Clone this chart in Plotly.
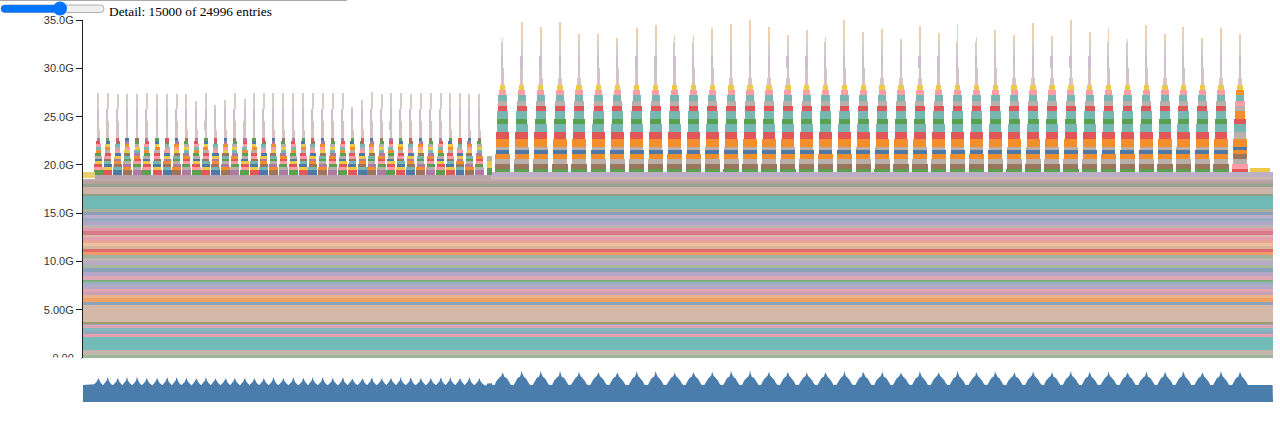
import numpy as np
import plotly.graph_objects as go

# ---------------- data (memory in GB, time in entry index) ----------------
entries_shown = 15000
entries_total = 24996

y_tick_values = [0, 5, 10, 15, 20, 25, 30, 35]
y_tick_labels = ["0.00", "5.00G", "10.0G", "15.0G", "20.0G", "25.0G", "30.0G", "35.0G"]

# long-lived allocations (bottom-up), alive over the whole window
static_band_gb = [0.31, 0.52, 1.35, 0.31, 0.31, 0.31, 0.31, 0.21, 0.10, 1.76,
                  0.31, 0.41, 0.31, 0.31, 0.31, 0.41, 0.31, 0.21, 0.41, 0.41,
                  0.41, 0.31, 0.41, 0.31, 0.31, 0.31, 0.41, 0.21, 0.31, 0.31,
                  0.31, 0.21, 0.41, 0.41, 0.31, 0.41, 0.31, 0.31, 0.31, 0.31,
                  1.35, 0.21, 0.72, 0.31, 0.31, 0.21]

# allocations alive during each phase
left_phase_span = [151, 5143]
left_phase_base_gb = [0.32]
right_phase_span = [5143, 15000]
right_phase_base_gb = [0.14, 0.52]

# phase 1 iterations
left_iter_center = [193, 311, 437, 555, 681, 803, 933, 1059, 1181, 1302,
                    1428, 1550, 1670, 1796, 1912, 2039, 2158, 2278, 2401, 2525,
                    2651, 2777, 2895, 3021, 3147, 3274, 3395, 3521, 3639, 3765,
                    3882, 4005, 4131, 4257, 4383, 4509, 4630, 4752, 4869, 4995]
left_iter_peak_gb = [27.4, 27.4, 27.3, 27.3, 27.3, 27.4, 27.3, 27.3, 27.3, 27.3,
                     26.6, 27.4, 26.2, 26.7, 27.4, 26.8, 27.4, 27.4, 27.4, 27.4,
                     27.4, 27.4, 27.4, 27.4, 27.4, 27.4, 26.0, 26.7, 27.5, 27.3,
                     27.4, 27.4, 27.3, 27.4, 27.4, 27.4, 27.4, 27.4, 27.3, 27.3]
left_layer_gb = [0.55, 0.30, 0.30, 0.30, 0.30, 0.30, 0.30, 0.30, 0.30, 0.30, 0.30, 0.30]
left_layer_life = [113, 107, 101, 95, 88, 82, 76, 69, 63, 57, 50, 44]
left_needle_gb = [0.8, 1.0, 1.2]
left_needle_life = [32, 25, 19, 13]

# phase 2 iterations
right_iter_center = [5288, 5530, 5770, 6013, 6252, 6496, 6735, 6979, 7219, 7457,
                     7695, 7932, 8170, 8408, 8646, 8884, 9122, 9359, 9597, 9835,
                     10073, 10311, 10549, 10786, 11024, 11262, 11500, 11738, 11976, 12213,
                     12451, 12689, 12927, 13165, 13403, 13639, 13869, 14109, 14344, 14584]
right_iter_peak_gb = [33.1, 34.8, 34.3, 34.8, 33.6, 33.6, 33.1, 34.2, 34.5, 33.4,
                      33.4, 34.2, 34.6, 35.0, 34.3, 33.5, 34.0, 33.2, 35.0, 33.8,
                      34.1, 33.0, 34.4, 33.7, 34.6, 33.2, 34.0, 33.5, 34.7, 33.3,
                      35.0, 33.8, 34.2, 33.0, 34.5, 33.6, 34.3, 33.1, 34.2, 33.6]
right_layer_gb = [0.34, 0.52, 0.52, 0.52, 0.34, 0.34, 0.86, 0.69, 0.86, 0.52,
                  0.86, 0.52, 0.52, 0.52, 0.52, 0.52]
right_layer_life = [195, 192, 187, 180, 175, 171, 166, 158, 149, 140,
                    132, 122, 116, 105, 91, 69]
right_needle_gb = [0.8, 1.0, 1.2, 1.5]
right_needle_life = [44, 32, 23, 15, 10]

# a few isolated allocations
extra_block_start = [0, 5093, 5093, 5093, 14710]
extra_block_end = [151, 5156, 5156, 5156, 14962]
extra_block_base_gb = [18.63, 18.95, 19.65, 20.45, 19.29]
extra_block_gb = [0.60, 0.70, 0.80, 0.50, 0.45]

# ---------------- styles ----------------
TAB10 = ['#4e79a7', '#f28e2c', '#e15759', '#76b7b2', '#59a14f',
         '#edc949', '#af7aa1', '#ff9da7', '#9c755f', '#bab0ab']
NEEDLE = ['#d9c2c6', '#cfc6c3', '#cdbfcf', '#d6ccc8', '#efcfae']
static_colors = ['#9db598', '#c4b6ae', '#72bbb6', '#e8a0b0', '#8fa9bd', '#86b8c0', '#dca4b4', '#9aa6bc', '#9c9a6a', '#d4b9a8',
                 '#8fa3b8', '#f0a268', '#eab38a', '#c9a0b8', '#e0a7b3', '#b4a9c6', '#9cb0c4', '#7cb07a', '#dfa8b8', '#b8a6c8',
                 '#8aa2ba', '#a6b8a0', '#b7aac6', '#bdb5b1', '#9fb29a', '#ee9a6a', '#e06a68', '#d8b49a', '#f0c0a0', '#eaa59a',
                 '#e6a0ae', '#d8baa8', '#d8788a', '#e397a5', '#bdb5b1', '#b0a8c8', '#98acc0', '#bcaec8', '#8aa0b8', '#aab09a',
                 '#6fbab5', '#8c9e88', '#cdb2a8', '#93a38e', '#b5a29c', '#c0a8b0']
left_base_colors = ['#bba3ab']
right_base_colors = ['#cdb9ad', '#bcb0c6']
left_layer_color_idx = [4, 7, 2, 5, 0, 9, 4, 1, 3, 7, 2, 6]
left_needle_color_idx = [0, 1, 2, 3]
right_layer_color_idx = [4, 8, 9, 1, 0, 9, 1, 2, 3, 4, 3, 2, 9, 3, 7, 5]
last_layer_color_idx = [2, 7, 9, 8, 1, 0, 1, 9, 3, 2, 1, 9, 7, 3, 1, 5]
right_needle_color_idx = [0, 1, 2, 3, 4]
extra_block_colors = ['#e8cf70', '#59a14f', '#edc949', '#bab0ab', '#edc949']
MINI_COLOR = '#4a7dab'

# ---------------- build allocation rectangles ----------------
rects = []  # (x0, x1, base, size, color)
cum = 0.0
for s, c in zip(static_band_gb, static_colors):
    rects.append((0, entries_shown, cum, s, c))
    cum += s
static_top = cum

left_top = static_top
for s, c in zip(left_phase_base_gb, left_base_colors):
    rects.append((left_phase_span[0], left_phase_span[1], left_top, s, c))
    left_top += s
right_top = static_top
for s, c in zip(right_phase_base_gb, right_base_colors):
    rects.append((right_phase_span[0], right_phase_span[1], right_top, s, c))
    right_top += s

for k, (cx, peak) in enumerate(zip(left_iter_center, left_iter_peak_gb)):
    y = left_top
    for j, (s, life) in enumerate(zip(left_layer_gb, left_layer_life)):
        col = TAB10[(left_layer_color_idx[j] - 2 * k) % 10]
        rects.append((cx - life / 2, cx + life / 2, y, s, col))
        y += s
    for j, life in enumerate(left_needle_life):
        s = left_needle_gb[j] if j < len(left_needle_gb) else max(peak - y, 0.1)
        rects.append((cx - life / 2, cx + life / 2, y, s, NEEDLE[left_needle_color_idx[j]]))
        y += s

n_right = len(right_iter_center)
for k, (cx, peak) in enumerate(zip(right_iter_center, right_iter_peak_gb)):
    y = right_top
    cidx = last_layer_color_idx if k == n_right - 1 else right_layer_color_idx
    for j, (s, life) in enumerate(zip(right_layer_gb, right_layer_life)):
        rects.append((cx - life / 2, cx + life / 2, y, s, TAB10[cidx[j]]))
        y += s
    for j, life in enumerate(right_needle_life):
        s = right_needle_gb[j] if j < len(right_needle_gb) else max(peak - y, 0.1)
        rects.append((cx - life / 2, cx + life / 2, y, s, NEEDLE[right_needle_color_idx[j]]))
        y += s

for a, b, base, s, c in zip(extra_block_start, extra_block_end, extra_block_base_gb,
                            extra_block_gb, extra_block_colors):
    rects.append((a, b, base, s, c))

bx = [(r[0] + r[1]) / 2 for r in rects]
bw = [r[1] - r[0] for r in rects]
bbase = [r[2] for r in rects]
by = [r[3] for r in rects]
bc = [r[4] for r in rects]

# total memory over time for the overview strip
grid = np.arange(0, entries_shown + 1, 5)
total = np.zeros(len(grid))
for x0, x1, _, s, _ in rects:
    total[(grid >= x0) & (grid < x1)] += s

# ---------------- figure ----------------
fig = go.Figure()
fig.add_trace(go.Bar(x=bx, y=by, base=bbase, width=bw,
                     marker=dict(color=bc, line=dict(width=0)),
                     hoverinfo='skip', xaxis='x', yaxis='y'))
fig.add_trace(go.Scatter(x=grid, y=total, mode='lines', fill='tozeroy',
                         line=dict(width=0, color=MINI_COLOR), fillcolor=MINI_COLOR,
                         hoverinfo='skip', xaxis='x2', yaxis='y2'))

W, H = 1280, 425
L, R, T, B = 83, 7, 20, 23
PW, PH = W - L - R, H - T - B


def pxx(v):
    return (v - L) / PW


def pxy(v):
    return 1 - (v - T) / PH


def pill(x0, y0, x1, y1):
    r = (y1 - y0) / 2
    ym = (y0 + y1) / 2
    pts = [('M', x0 + r, y0), ('L', x1 - r, y0), ('Q', x1, y0, x1, ym), ('Q', x1, y1, x1 - r, y1),
           ('L', x0 + r, y1), ('Q', x0, y1, x0, ym), ('Q', x0, y0, x0 + r, y0)]
    out = []
    for p in pts:
        cmd = p[0]
        coords = p[1:]
        segs = []
        for i in range(0, len(coords), 2):
            segs.append(f"{pxx(coords[i]):.6f},{pxy(coords[i + 1]):.6f}")
        out.append(cmd + ' ' + ' '.join(segs))
    return ' '.join(out) + ' Z'


shapes = [
    dict(type='line', xref='paper', yref='paper', x0=pxx(0), x1=pxx(347), y0=pxy(0.5), y1=pxy(0.5),
         line=dict(color='#a8a8a8', width=1)),
    dict(type='path', xref='paper', yref='paper', path=pill(1, 5, 104, 12.5),
         fillcolor='#efefef', line=dict(color='#b0b0b0', width=1)),
    dict(type='path', xref='paper', yref='paper', path=pill(1, 5, 64, 12.5),
         fillcolor='#0075ff', line=dict(width=0)),
    dict(type='circle', xref='paper', yref='paper', x0=pxx(53), x1=pxx(67), y0=pxy(15.5), y1=pxy(1.5),
         fillcolor='#0075ff', line=dict(width=0)),
    dict(type='rect', xref='paper', yref='paper', x0=pxx(0), x1=pxx(81.5), y0=pxy(368), y1=pxy(357.6),
         fillcolor='white', line=dict(width=0), layer='above'),
]

fig.update_layout(
    template='none',
    width=W, height=H,
    margin=dict(l=L, r=R, t=T, b=B, pad=0),
    paper_bgcolor='white', plot_bgcolor='white',
    showlegend=False, hovermode=False, barmode='overlay', bargap=0,
    xaxis=dict(domain=[0, 1], range=[0, entries_shown], visible=False, anchor='y'),
    yaxis=dict(domain=[1 - (358.3 - T) / PH, 1], range=[0, 35], anchor='x',
               tickvals=y_tick_values, ticktext=y_tick_labels,
               ticks='outside', ticklen=6, tickwidth=1, tickcolor='#222',
               showline=True, linecolor='#222', linewidth=1,
               showgrid=False, zeroline=False,
               tickfont=dict(family='Liberation Sans, Arial, sans-serif', size=11, color='#333')),
    xaxis2=dict(domain=[0, 1], range=[0, entries_shown], visible=False, anchor='y2'),
    yaxis2=dict(domain=[0, 1 - (371 - T) / PH], range=[0, 35], visible=False, anchor='x2'),
    shapes=shapes,
    annotations=[dict(text=f"Detail: {entries_shown} of {entries_total} entries",
                      xref='paper', yref='paper', x=pxx(107), y=pxy(11.5),
                      xanchor='left', yanchor='middle', showarrow=False,
                      font=dict(family='Liberation Serif, Times New Roman, serif', size=13.33, color='black'))],
)

fig.write_html("out.html")
